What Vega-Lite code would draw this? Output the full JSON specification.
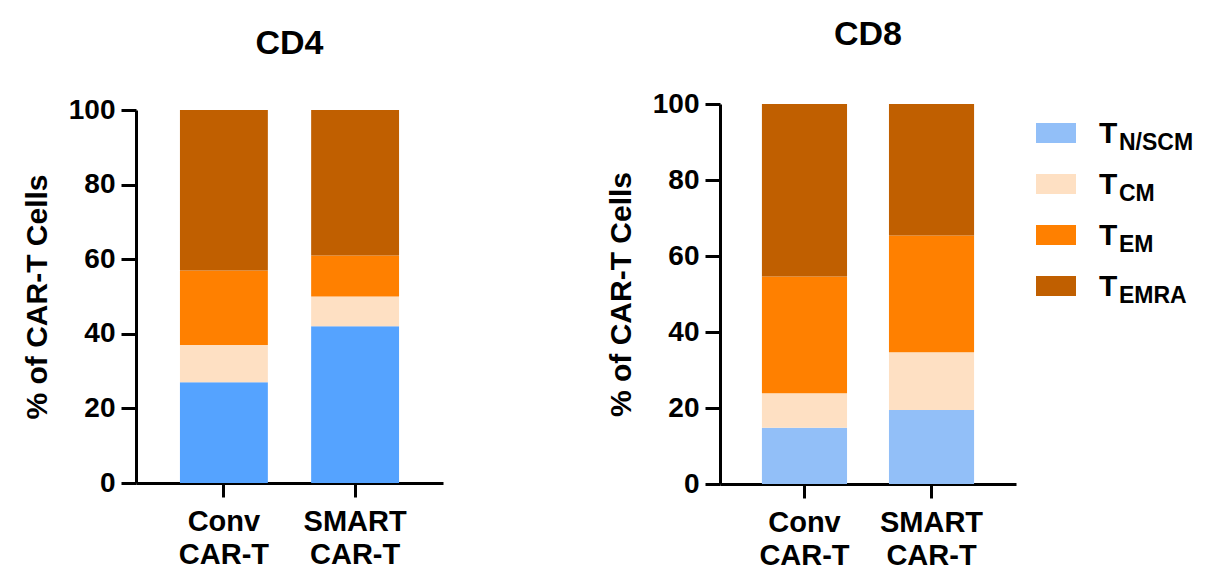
{
  "$schema": "https://vega.github.io/schema/vega-lite/v6.json",
  "padding": {"left": 22, "top": 18, "right": 5, "bottom": 0},
  "background": "white",
  "config": {
    "font": "Liberation Sans",
    "view": {"stroke": null},
    "title": {"font": "Liberation Sans", "fontSize": 34, "fontWeight": "bold", "color": "black", "anchor": "middle"},
    "axis": {
      "labelFont": "Liberation Sans", "labelFontWeight": "bold", "labelColor": "black", "labelFontSize": 28,
      "titleFont": "Liberation Sans", "titleFontWeight": "bold", "titleColor": "black", "titleFontSize": 30,
      "domainColor": "black", "domainWidth": 3, "tickColor": "black", "tickWidth": 3, "grid": false
    }
  },
  "datasets": {
    "cd4": [
      {"group": "Conv CAR-T", "subset": "N/SCM", "rank": 1, "pct": 27},
      {"group": "Conv CAR-T", "subset": "CM", "rank": 2, "pct": 10},
      {"group": "Conv CAR-T", "subset": "EM", "rank": 3, "pct": 20},
      {"group": "Conv CAR-T", "subset": "EMRA", "rank": 4, "pct": 43},
      {"group": "SMART CAR-T", "subset": "N/SCM", "rank": 1, "pct": 42},
      {"group": "SMART CAR-T", "subset": "CM", "rank": 2, "pct": 8},
      {"group": "SMART CAR-T", "subset": "EM", "rank": 3, "pct": 11},
      {"group": "SMART CAR-T", "subset": "EMRA", "rank": 4, "pct": 39}
    ],
    "cd8": [
      {"group": "Conv CAR-T", "subset": "N/SCM", "rank": 1, "pct": 14.8},
      {"group": "Conv CAR-T", "subset": "CM", "rank": 2, "pct": 9.1},
      {"group": "Conv CAR-T", "subset": "EM", "rank": 3, "pct": 30.7},
      {"group": "Conv CAR-T", "subset": "EMRA", "rank": 4, "pct": 45.4},
      {"group": "SMART CAR-T", "subset": "N/SCM", "rank": 1, "pct": 19.5},
      {"group": "SMART CAR-T", "subset": "CM", "rank": 2, "pct": 15.2},
      {"group": "SMART CAR-T", "subset": "EM", "rank": 3, "pct": 30.7},
      {"group": "SMART CAR-T", "subset": "EMRA", "rank": 4, "pct": 34.6}
    ],
    "legend": [
      {"subset": "N/SCM", "main": "T"},
      {"subset": "CM", "main": "T"},
      {"subset": "EM", "main": "T"},
      {"subset": "EMRA", "main": "T"}
    ]
  },
  "spacing": 20,
  "resolve": {"scale": {"color": "independent", "x": "independent", "y": "independent"}},
  "hconcat": [
    {
      "spacing": 163,
      "resolve": {"scale": {"color": "independent", "x": "independent", "y": "independent"}},
      "hconcat": [
        {
          "data": {"name": "cd4"},
          "title": {"text": "CD4", "offset": 35},
          "width": 307,
          "height": 379,
          "mark": {"type": "bar"},
          "encoding": {
            "x": {"field": "group", "type": "nominal", "sort": ["Conv CAR-T", "SMART CAR-T"],
                  "scale": {"paddingInner": 0.33, "paddingOuter": 0.335},
                  "axis": {"title": null, "labelAngle": 0, "tickSize": 14, "labelPadding": 10, "labelLineHeight": 33, "labelFontSize": 29, "labelExpr": "split(datum.label, ' ')"}},
            "y": {"field": "pct", "type": "quantitative", "stack": "zero",
                  "scale": {"domain": [0, 100], "nice": false, "range": [379, 6]},
                  "axis": {"title": "% of CAR-T Cells", "values": [0, 20, 40, 60, 80, 100], "tickSize": 15, "labelPadding": 6, "titlePadding": 16}},
            "color": {"field": "subset", "type": "nominal", "legend": null,
                      "scale": {"domain": ["N/SCM", "CM", "EM", "EMRA"], "range": ["#55A3FF", "#FEE0C3", "#FF8000", "#C05F00"]}},
            "order": {"field": "rank", "type": "quantitative"}
          }
        },
        {
          "data": {"name": "cd8"},
          "title": {"text": "CD8", "offset": 38},
          "width": 296,
          "height": 380,
          "mark": {"type": "bar"},
          "encoding": {
            "x": {"field": "group", "type": "nominal", "sort": ["Conv CAR-T", "SMART CAR-T"],
                  "scale": {"paddingInner": 0.33, "paddingOuter": 0.33},
                  "axis": {"title": null, "labelAngle": 0, "tickSize": 14, "labelPadding": 10, "labelLineHeight": 33, "labelFontSize": 29, "labelExpr": "split(datum.label, ' ')"}},
            "y": {"field": "pct", "type": "quantitative", "stack": "zero",
                  "scale": {"domain": [0, 100], "nice": false},
                  "axis": {"title": "% of CAR-T Cells", "values": [0, 20, 40, 60, 80, 100], "tickSize": 15, "labelPadding": 6, "titlePadding": 16}},
            "color": {"field": "subset", "type": "nominal", "legend": null,
                      "scale": {"domain": ["N/SCM", "CM", "EM", "EMRA"], "range": ["#92BFF8", "#FEE0C3", "#FF8000", "#C05F00"]}},
            "order": {"field": "rank", "type": "quantitative"}
          }
        }
      ]
    },
    {
      "data": {"name": "legend"},
      "width": 40,
      "height": 211,
      "encoding": {
        "y": {"field": "subset", "type": "nominal", "sort": ["N/SCM", "CM", "EM", "EMRA"],
              "scale": {"type": "band", "paddingInner": 0, "paddingOuter": 0.07}, "axis": null}
      },
      "layer": [
        {
          "mark": {"type": "point", "filled": true, "opacity": 1, "shape": "M-1,-0.5H1V0.5H-1Z", "size": 1600},
          "encoding": {
            "color": {"field": "subset", "type": "nominal", "legend": null,
                      "scale": {"domain": ["N/SCM", "CM", "EM", "EMRA"], "range": ["#92BFF8", "#FEE0C3", "#FF8000", "#C05F00"]}}
          }
        },
        {
          "mark": {"type": "text", "align": "left", "baseline": "alphabetic", "dx": 43, "dy": 10, "fontSize": 30, "fontWeight": "bold", "color": "black", "font": "Liberation Sans"},
          "encoding": {"text": {"field": "main"}}
        },
        {
          "mark": {"type": "text", "align": "left", "baseline": "alphabetic", "dx": 63, "dy": 17, "fontSize": 23, "fontWeight": "bold", "color": "black", "font": "Liberation Sans"},
          "encoding": {"text": {"field": "subset"}}
        }
      ]
    }
  ]
}
